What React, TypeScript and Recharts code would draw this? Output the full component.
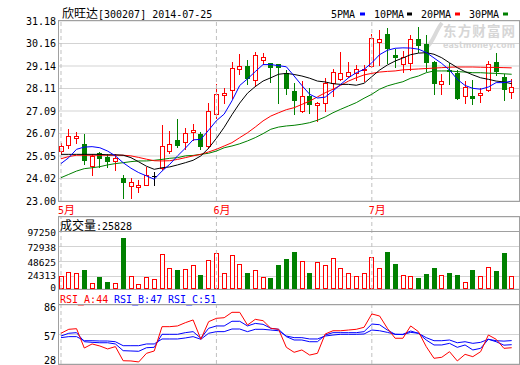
import React from "react";
import {
  ComposedChart,
  Bar,
  Line,
  XAxis,
  YAxis,
  CartesianGrid,
  ReferenceLine,
} from "recharts";

// 欣旺达 300207, 2014-05-05 .. 2014-07-25 (59 trading days)
const openPrice = [
  25.26, 25.53, 25.88, 25.58, 24.58, 25.2, 25.01, 24.82, 24.06, 23.67,
  23.64, 23.71, 24.15, 24.5, 25.25, 25.77, 25.67, 26.15, 26.03, 25.49,
  26.94, 27.82, 28.04, 28.98, 29.12, 28.49, 29.39, 29.28, 29.21, 28.8,
  28.0, 27.09, 27.77, 27.35, 27.45, 28.35, 28.53, 28.67, 28.83, 28.95,
  29.14, 30.24, 30.58, 29.62, 29.24, 29.28, 30.35, 30.12, 29.33, 28.3,
  28.95, 28.83, 27.77, 27.77, 27.82, 28.03, 29.33, 28.64, 27.97,
];
const closePrice = [
  25.49, 25.94, 25.95, 24.85, 25.05, 24.94, 24.8, 24.97, 23.88, 23.85,
  23.73, 24.17, 24.15, 25.49, 25.58, 25.55, 26.08, 26.23, 25.49, 27.09,
  27.85, 27.91, 29.04, 29.12, 28.58, 29.62, 29.53, 29.1, 29.1, 28.15,
  27.59, 27.77, 27.39, 27.45, 28.35, 28.86, 28.8, 28.88, 28.98, 29.0,
  30.39, 30.35, 29.97, 29.54, 29.54, 30.35, 30.09, 29.33, 28.38, 28.45,
  28.9, 27.69, 28.18, 27.67, 27.92, 29.24, 28.91, 28.11, 28.18,
];
const highPrice = [
  25.65, 26.27, 26.14, 26.03, 25.12, 25.23, 25.12, 25.15, 24.18, 24.06,
  23.94, 24.55, 24.3, 26.45, 26.2, 26.71, 26.3, 26.49, 26.14, 27.47,
  28.33, 28.15, 29.33, 29.69, 29.4, 29.77, 29.72, 29.28, 29.21, 28.95,
  28.35, 28.45, 28.15, 27.5, 28.6, 29.0, 29.78, 29.32, 29.2, 29.2,
  30.58, 30.75, 30.85, 29.9, 29.82, 30.55, 30.91, 30.55, 29.36, 28.76,
  29.28, 28.94, 28.45, 28.5, 28.15, 29.38, 29.74, 28.78, 28.55,
];
const lowPrice = [
  25.2, 25.42, 25.64, 24.7, 24.17, 24.56, 24.56, 24.4, 23.12, 23.15,
  23.42, 23.71, 23.73, 24.44, 25.17, 25.45, 25.35, 25.79, 25.38, 25.42,
  26.79, 27.45, 27.69, 28.76, 28.3, 28.23, 29.21, 28.41, 27.44, 27.85,
  26.95, 27.06, 26.98, 26.62, 27.09, 27.75, 28.5, 28.62, 28.48, 28.45,
  29.1, 29.2, 29.28, 29.1, 28.85, 28.95, 29.75, 28.91, 27.88, 27.85,
  28.33, 27.65, 27.47, 27.39, 27.52, 28.0, 28.73, 27.59, 27.7,
];
const ma5 = [
  24.7, 24.97, 25.35, 25.45, 25.47, 25.42, 25.27, 25.05, 24.74, 24.49,
  24.29, 24.14, 23.99, 24.36, 24.67, 25.05, 25.4, 25.78, 25.8, 26.22,
  26.65, 26.95, 27.55, 28.25, 28.55, 28.88, 29.2, 29.2, 29.15, 29.1,
  28.68, 28.25, 27.85, 27.68, 27.72, 28.0, 28.3, 28.6, 28.83, 28.98,
  29.28, 29.65, 29.85, 29.94, 29.96, 29.95, 29.9, 29.75, 29.5, 29.25,
  28.95, 28.53, 28.25, 28.12, 28.08, 28.18, 28.38, 28.38, 28.45,
];
const ma10 = [
  25.12, 25.12, 25.12, 25.12, 25.12, 25.12, 25.1, 25.1, 25.08, 24.97,
  24.78, 24.58, 24.44, 24.51, 24.55, 24.64, 24.74, 24.85, 25.05, 25.4,
  25.85, 26.35, 26.92, 27.45, 27.9, 28.2, 28.45, 28.6, 28.76, 28.8,
  28.75, 28.68, 28.58, 28.45, 28.41, 28.33, 28.3, 28.3, 28.26, 28.35,
  28.65, 28.95, 29.18, 29.36, 29.5, 29.65, 29.72, 29.74, 29.67, 29.51,
  29.28, 29.06, 28.88, 28.73, 28.6, 28.53, 28.45, 28.41, 28.33,
];
const ma20 = [
  24.92, 25.02, 25.08, 25.08, 25.08, 25.08, 25.08, 25.08, 25.08, 25.05,
  24.98, 24.9, 24.83, 24.82, 24.83, 24.89, 24.97, 25.05, 25.12, 25.23,
  25.35, 25.5, 25.65, 25.88, 26.1, 26.36, 26.64, 26.86, 27.01, 27.15,
  27.24, 27.39, 27.54, 27.73, 27.92, 28.08, 28.26, 28.45, 28.6, 28.73,
  28.8, 28.86, 28.89, 28.91, 28.96, 28.98, 29.0, 29.02, 29.04, 29.06,
  29.08, 29.09, 29.09, 29.09, 29.08, 29.07, 29.07, 29.06, 29.05,
];
const ma30 = [
  24.06, 24.21, 24.36, 24.47, 24.51, 24.56, 24.64, 24.7, 24.74, 24.79,
  24.82, 24.82, 24.85, 24.89, 24.94, 24.97, 25.05, 25.07, 25.12, 25.17,
  25.27, 25.42, 25.5, 25.6, 25.73, 25.88, 26.06, 26.26, 26.36, 26.41,
  26.44, 26.49, 26.56, 26.67, 26.82, 27.01, 27.17, 27.32, 27.47, 27.67,
  27.85, 28.08, 28.23, 28.33, 28.42, 28.58, 28.68, 28.83, 28.91, 28.91,
  28.91, 28.88, 28.86, 28.83, 28.83, 28.81, 28.8, 28.78, 28.76,
];
const volume = [
  25446, 31930, 30300, 35170, 13600, 23830, 15720, 13600, 87040, 24960,
  11990, 23340, 20100, 60620, 37930, 35170, 36300, 42790, 27070, 50890,
  62240, 29820, 59480, 44900, 30300, 34680, 23340, 22200, 43280, 53000,
  64350, 49270, 30300, 47650, 42790, 54130, 37930, 29820, 24960, 29820,
  55750, 37930, 64350, 44900, 26580, 24960, 22200, 28690, 38410, 26580,
  30300, 27070, 15720, 35170, 24960, 39550, 33550, 62730, 25828,
];
const rsiA = [
  58.2, 62.1, 62.7, 43.7, 47.7, 45.7, 42.8, 45.1, 31.2, 31.0,
  30.0, 38.5, 40.8, 64.7, 64.7, 65.4, 68.6, 71.3, 52.3, 69.6,
  72.9, 73.5, 78.8, 78.8, 66.3, 71.9, 70.6, 63.1, 62.1, 44.4,
  39.5, 41.8, 36.8, 38.5, 57.5, 60.7, 60.7, 61.4, 62.1, 64.1,
  77.2, 75.2, 63.1, 53.3, 53.3, 65.4, 59.8, 45.1, 33.6, 34.6,
  40.1, 31.0, 37.5, 35.2, 40.1, 56.5, 52.3, 43.4, 44,
];
const rsiB = [
  55.5, 58.2, 58.8, 49.9, 49.3, 48.9, 48.9, 47.7, 41.1, 40.8,
  40.5, 44.0, 44.4, 57.2, 57.2, 57.2, 58.8, 59.8, 53.3, 63.1,
  65.4, 65.4, 70.0, 70.0, 65.4, 67.9, 67.0, 63.1, 62.1, 54.9,
  51.6, 51.6, 49.9, 49.9, 56.5, 58.8, 58.8, 58.8, 58.8, 59.8,
  67.3, 66.6, 61.4, 57.2, 57.2, 60.4, 58.2, 51.6, 46.7, 46.7,
  48.3, 44.4, 46.7, 41.8, 43.4, 52.3, 49.9, 46.5, 47,
];
const rsiC = [
  53.9, 54.9, 54.9, 50.9, 50.9, 50.6, 50.6, 49.9, 46.0, 46.0,
  46.0, 47.7, 47.7, 52.6, 52.6, 52.6, 53.6, 54.9, 52.3, 58.2,
  59.8, 59.8, 62.4, 62.4, 59.8, 62.1, 62.1, 61.4, 60.7, 55.5,
  53.9, 53.9, 52.6, 52.6, 55.5, 56.5, 57.2, 57.2, 57.2, 57.5,
  61.4, 60.7, 59.1, 57.2, 56.9, 59.1, 58.2, 53.9, 50.9, 50.9,
  51.6, 48.9, 49.9, 48.3, 49.3, 52.3, 50.9, 50.5, 51,
];

const priceTicks = [23, 24.0225, 25.045, 26.0675, 27.09, 28.1125, 29.135, 30.1575, 31.18];
const priceTickLabels = ["23.00", "24.02", "25.05", "26.07", "27.09", "28.11", "29.14", "30.16", "31.18"];
const volTicks = [4052, 24312.5, 48625, 72937.5, 97250];
const volTickLabels = ["0", "24313", "48625", "72938", "97250"];
const rsiTicks = [28, 57, 86];
const rsiTickLabels = ["28", "57", "86"];
const monthTicks = [0, 20, 40];
const monthLabels = ["5月", "6月", "7月"];
const maLegend = ["5PMA", "10PMA", "20PMA", "30PMA"];

const RED = "#ff0000";
const GREEN = "#008000";
const BLUE = "#0000ff";
const BORDER = "#a0a0a0";
const GRID = "#d3d3d3";
const DASH = "#c0c0c0";
const MONO = "'DejaVu Sans Mono', monospace";
const CJK = "'Noto Sans CJK SC', sans-serif";

const rows = openPrice.map((o, i) => ({
  i,
  open: o,
  close: closePrice[i],
  high: highPrice[i],
  low: lowPrice[i],
  range: [lowPrice[i], highPrice[i]],
  ma5: ma5[i],
  ma10: ma10[i],
  ma20: ma20[i],
  ma30: ma30[i],
  vol: volume[i],
  rsiA: rsiA[i],
  rsiB: rsiB[i],
  rsiC: rsiC[i],
}));

const X_DOMAIN: [number, number] = [-0.257, 58.94];

// 蜡烛图: range=[low, high] 막대 위에 시가/종가를 직접 그림
function Candle(props: any) {
  const { x, y, width, height, payload } = props;
  if (x == null || y == null) return null;
  const { open: o, close: c, high: h, low: l } = payload;
  const top = Math.min(y, y + height);
  const span = Math.abs(height);
  const k = h > l ? span / (h - l) : 0;
  const py = (v: number) => top + (h - v) * k;
  const cx = Math.round(x + width / 2);
  const wx = cx + 0.5;
  const color = c > o ? RED : c < o ? GREEN : "#000000";
  const bt = Math.round(py(Math.max(o, c))) + 0.5;
  const bb = Math.round(py(Math.min(o, c))) + 0.5;
  const yh = Math.round(py(h));
  const yl = Math.round(py(l)) + 1;
  const flat = bb - bt < 1;

  if (c > o) {
    return (
      <g>
        <line x1={wx} x2={wx} y1={yh} y2={bt - 0.5} stroke={RED} />
        <line x1={wx} x2={wx} y1={bb + 0.5} y2={yl} stroke={RED} />
        {flat ? (
          <line x1={cx - 2} x2={cx + 3} y1={bt} y2={bt} stroke={RED} />
        ) : (
          <rect x={cx - 1.5} y={bt} width={4} height={bb - bt} fill="#ffffff" stroke={RED} />
        )}
      </g>
    );
  }
  return (
    <g>
      <line x1={wx} x2={wx} y1={yh} y2={yl} stroke={color} />
      {flat ? (
        <line x1={cx - 2} x2={cx + 3} y1={bt} y2={bt} stroke={color} />
      ) : (
        <rect x={cx - 1.5} y={bt} width={4} height={bb - bt} fill={color} stroke={color} />
      )}
    </g>
  );
}

function VolBar(props: any) {
  const { x, y, width, height, payload } = props;
  if (x == null || y == null) return null;
  const cx = Math.round(x + width / 2);
  const t = Math.round(y) + 0.5;
  const b = Math.round(y + height) - 0.5;
  const up = payload.close >= payload.open;
  return (
    <rect
      x={cx - 1.5}
      y={t}
      width={4}
      height={Math.max(b - t, 0)}
      fill={up ? "#ffffff" : GREEN}
      stroke={up ? RED : GREEN}
    />
  );
}

const yTick = (ticks: number[], labels: string[], dys: number[], size = 10) => (props: any) => {
  const { y, payload } = props;
  const k = ticks.indexOf(payload.value);
  return (
    <text x={56} y={y} dy={dys[k]} textAnchor="end" fontFamily={MONO} fontSize={size} fill="#000">
      {labels[k]}
    </text>
  );
};

const MonthTick = (props: any) => {
  const { x, y, payload } = props;
  const label = monthLabels[monthTicks.indexOf(payload.value)] || "";
  return (
    <text x={x - 3} y={y + 11} fill={RED}>
      <tspan fontFamily={MONO} fontSize={10}>{label.slice(0, -1)}</tspan>
      <tspan fontFamily={CJK} fontSize={11}>{label.slice(-1)}</tspan>
    </text>
  );
};

const monthLines = monthTicks.map((m) => (
  <ReferenceLine key={m} x={m} stroke={DASH} strokeDasharray="4 3" />
));

const abs: React.CSSProperties = { position: "absolute", left: 0, top: 0 };

export default function App() {
  const W = 520;
  const H = 365;
  return (
    <div style={{ position: "absolute", left: 0, top: 0, width: W, height: H, background: "#fff" }}>
      {/* watermark */}
      <svg width={W} height={H} style={abs}>
        <path d="M428 46 C 434 40, 436 30, 442 23" stroke="#dadada" strokeWidth={4} fill="none" />
        <text x={443} y={35.5} fontFamily={CJK} fontWeight="bold" fontSize={13.5} fill="#d6d6d6" textLength={72}>
          东方财富网
        </text>
        <text x={443} y={48} fontFamily="'DejaVu Sans', sans-serif" fontWeight="bold" fontSize={8} fill="#d6d6d6" textLength={72}>
          eastmoney.com
        </text>
      </svg>

      <div style={abs}>
        <ComposedChart width={W} height={H} data={rows} margin={{ top: 21, right: 1, bottom: 149, left: 0 }}>
          <CartesianGrid vertical={false} stroke={GRID} />
          <XAxis
            type="number"
            dataKey="i"
            domain={X_DOMAIN}
            allowDataOverflow
            ticks={monthTicks}
            interval={0}
            height={15}
            axisLine={false}
            tickLine={false}
            tickSize={0}
            tick={<MonthTick />}
          />
          <YAxis
            type="number"
            domain={[23, 31.18]}
            allowDataOverflow
            ticks={priceTicks}
            interval={0}
            width={59}
            axisLine={false}
            tickLine={false}
            tick={yTick(priceTicks, priceTickLabels, priceTicks.map(() => 3.5))}
          />
          {monthLines}
          <Bar dataKey="range" barSize={5} shape={(p: any) => <Candle {...p} />} isAnimationActive={false} />
          <Line type="linear" dataKey="ma30" stroke={GREEN} strokeWidth={1} dot={false} isAnimationActive={false} />
          <Line type="linear" dataKey="ma20" stroke={RED} strokeWidth={1} dot={false} isAnimationActive={false} />
          <Line type="linear" dataKey="ma10" stroke="#000000" strokeWidth={1} dot={false} isAnimationActive={false} />
          <Line type="linear" dataKey="ma5" stroke={BLUE} strokeWidth={1} dot={false} isAnimationActive={false} />
        </ComposedChart>
      </div>

      <div style={abs}>
        <ComposedChart width={W} height={H} data={rows} margin={{ top: 217, right: 1, bottom: 76, left: 0 }}>
          <CartesianGrid vertical={false} stroke={GRID} />
          <XAxis type="number" dataKey="i" domain={X_DOMAIN} allowDataOverflow hide />
          <YAxis
            type="number"
            domain={[4052, 120752]}
            allowDataOverflow
            ticks={volTicks}
            interval={0}
            width={59}
            axisLine={false}
            tickLine={false}
            tick={yTick(volTicks, volTickLabels, [2, 3, 4.5, 4.5, 4.5], 9.5)}
          />
          {monthLines}
          <Bar dataKey="vol" barSize={5} shape={(p: any) => <VolBar {...p} />} isAnimationActive={false} />
        </ComposedChart>
      </div>

      <div style={abs}>
        <ComposedChart width={W} height={H} data={rows} margin={{ top: 305, right: 1, bottom: 1, left: 0 }}>
          <CartesianGrid vertical={false} stroke={GRID} />
          <XAxis type="number" dataKey="i" domain={X_DOMAIN} allowDataOverflow hide />
          <YAxis
            type="number"
            domain={[28, 86]}
            allowDataOverflow
            ticks={rsiTicks}
            interval={0}
            width={59}
            axisLine={false}
            tickLine={false}
            tick={yTick(rsiTicks, rsiTickLabels, [0, 5, 6])}
          />
          {monthLines}
          <Line type="linear" dataKey="rsiC" stroke={BLUE} strokeWidth={1} dot={false} isAnimationActive={false} />
          <Line type="linear" dataKey="rsiB" stroke={BLUE} strokeWidth={1} dot={false} isAnimationActive={false} />
          <Line type="linear" dataKey="rsiA" stroke={RED} strokeWidth={1} dot={false} isAnimationActive={false} />
        </ComposedChart>
      </div>

      {/* frames and captions */}
      <svg width={W} height={H} style={{ ...abs, pointerEvents: "none" }}>
        <rect x={58.5} y={20.5} width={461} height={181} fill="none" stroke={BORDER} />
        <rect x={58.5} y={216.5} width={461} height={73} fill="none" stroke={BORDER} />
        <line x1={58.5} x2={519.5} y1={231.5} y2={231.5} stroke={BORDER} />
        <rect x={58.5} y={289.5} width={461} height={75} fill="none" stroke={BORDER} />
        <line x1={58.5} x2={519.5} y1={304.5} y2={304.5} stroke={BORDER} />

        <text x={62} y={18} fontFamily={CJK} fontSize={12} fill="#000">欣旺达</text>
        <text x={98} y={18} fontFamily={MONO} fontSize={10} fill="#000">[300207] 2014-07-25</text>

        {maLegend.map((name, k) => {
          const tx = [331, 374, 421, 469][k];
          const dx = [360, 407, 455, 503][k];
          const col = [BLUE, "#000000", RED, GREEN][k];
          return (
            <g key={name}>
              <text x={tx} y={18} fontFamily={MONO} fontSize={10} fill="#000">{name}</text>
              <rect x={dx} y={12.5} width={5} height={3} fill={col} />
            </g>
          );
        })}

        <text x={60} y={230} fontFamily={CJK} fontSize={12} fill="#000">成交量</text>
        <text x={96} y={230} fontFamily={MONO} fontSize={10} fill="#000">:{volume[volume.length - 1]}</text>

        <text x={60} y={303} fontFamily={MONO} fontSize={10} fill={RED}>RSI_A:{Math.round(rsiA[rsiA.length - 1])}</text>
        <text x={114} y={303} fontFamily={MONO} fontSize={10} fill={BLUE}>RSI_B:{Math.round(rsiB[rsiB.length - 1])}</text>
        <text x={168} y={303} fontFamily={MONO} fontSize={10} fill={BLUE}>RSI_C:{Math.round(rsiC[rsiC.length - 1])}</text>
      </svg>
    </div>
  );
}
